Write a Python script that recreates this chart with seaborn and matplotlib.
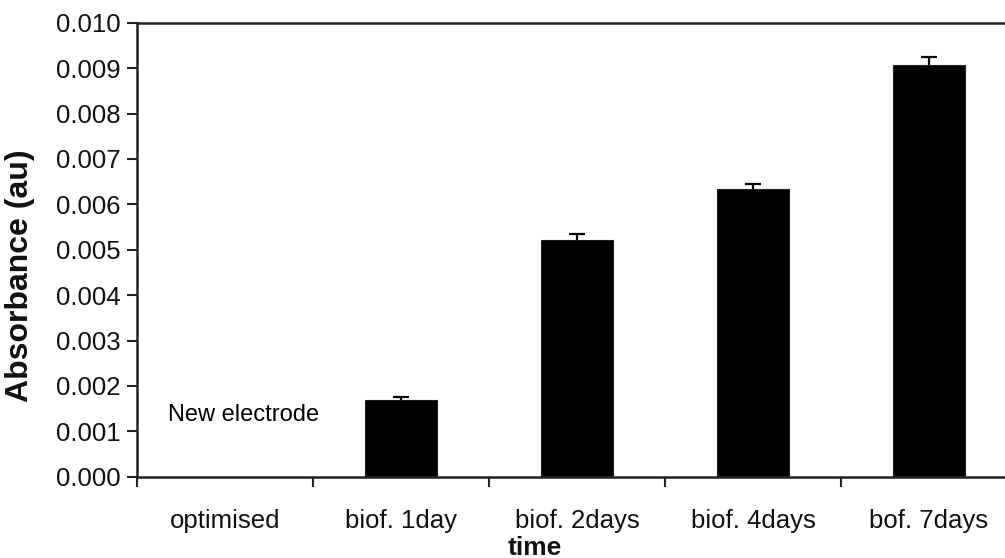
import matplotlib
matplotlib.use("Agg")
import matplotlib.pyplot as plt
import seaborn as sns
import pandas as pd
import numpy as np
from matplotlib.ticker import FixedLocator, FormatStrFormatter

categories = ["optimised", "biof. 1day", "biof. 2days", "biof. 4days", "bof. 7days"]
absorbance = [0.0, 0.00170, 0.00522, 0.00633, 0.00907]
err_upper = [0.0, 0.00005, 0.00012, 0.00012, 0.00017]
ytick_values = [0.000, 0.001, 0.002, 0.003, 0.004, 0.005, 0.006, 0.007, 0.008, 0.009, 0.010]
annotation = "New electrode"

sns.set_style("ticks")
plt.rcParams["font.family"] = ["Liberation Sans", "DejaVu Sans"]

df = pd.DataFrame({"time": categories, "Absorbance": absorbance, "err": err_upper})

fig = plt.figure(figsize=(10.05, 5.58), dpi=100)
ax = fig.add_axes([0.1363, 0.1457, 0.8756, 0.8136])

sns.barplot(data=df, x="time", y="Absorbance", order=categories, color="black",
            width=0.405, edgecolor="#202020", linewidth=0.8, saturation=1, ax=ax)

# upper-only error bars for bars that have an error value
sub = df[df["err"] > 0]
subpos = np.array([categories.index(c) for c in sub["time"]])
_, caps, _ = ax.errorbar(subpos, sub["Absorbance"].values,
                         yerr=[np.zeros(len(sub)), sub["err"].values], fmt="none",
                         ecolor="black", elinewidth=1.6, capsize=6, capthick=1.6)
if len(caps) == 2:
    caps[0].set_visible(False)

pos = np.arange(len(categories))
ax.set_xlim(-0.5, len(categories) - 0.5)
ax.set_ylim(0, 0.010)
ax.yaxis.set_major_locator(FixedLocator(ytick_values))
ax.yaxis.set_major_formatter(FormatStrFormatter("%.3f"))

ax.set_xticks(pos)
ax.set_xticklabels(categories)
ax.xaxis.set_minor_locator(FixedLocator(np.arange(len(categories) + 1) - 0.5))
ax.tick_params(axis="x", which="major", length=0, pad=23, labelsize=18.5, labelcolor="#111111")
ax.tick_params(axis="x", which="minor", length=7, width=1.5, direction="out", color="#222222")
ax.tick_params(axis="y", which="major", length=7, width=1.5, direction="out", pad=5,
               labelsize=18.5, labelcolor="#111111", color="#222222")

for side in ["left", "bottom", "top"]:
    ax.spines[side].set_visible(True)
    ax.spines[side].set_color("#222222")
    ax.spines[side].set_linewidth(1.8)
ax.spines["right"].set_visible(False)

ax.set_ylabel("Absorbance (au)", fontsize=23, fontweight="bold", color="#111111")
ax.yaxis.set_label_coords(-0.116, 0.443)
ax.set_xlabel("time", fontsize=19, fontweight="bold", color="#111111")
ax.xaxis.set_label_coords(0.452, -0.13)
ax.xaxis.label.set_va("top")

ax.text(-0.324, 0.001234, annotation, fontsize=17, color="black", va="baseline", ha="left")

fig.savefig("out.png", dpi=100)
